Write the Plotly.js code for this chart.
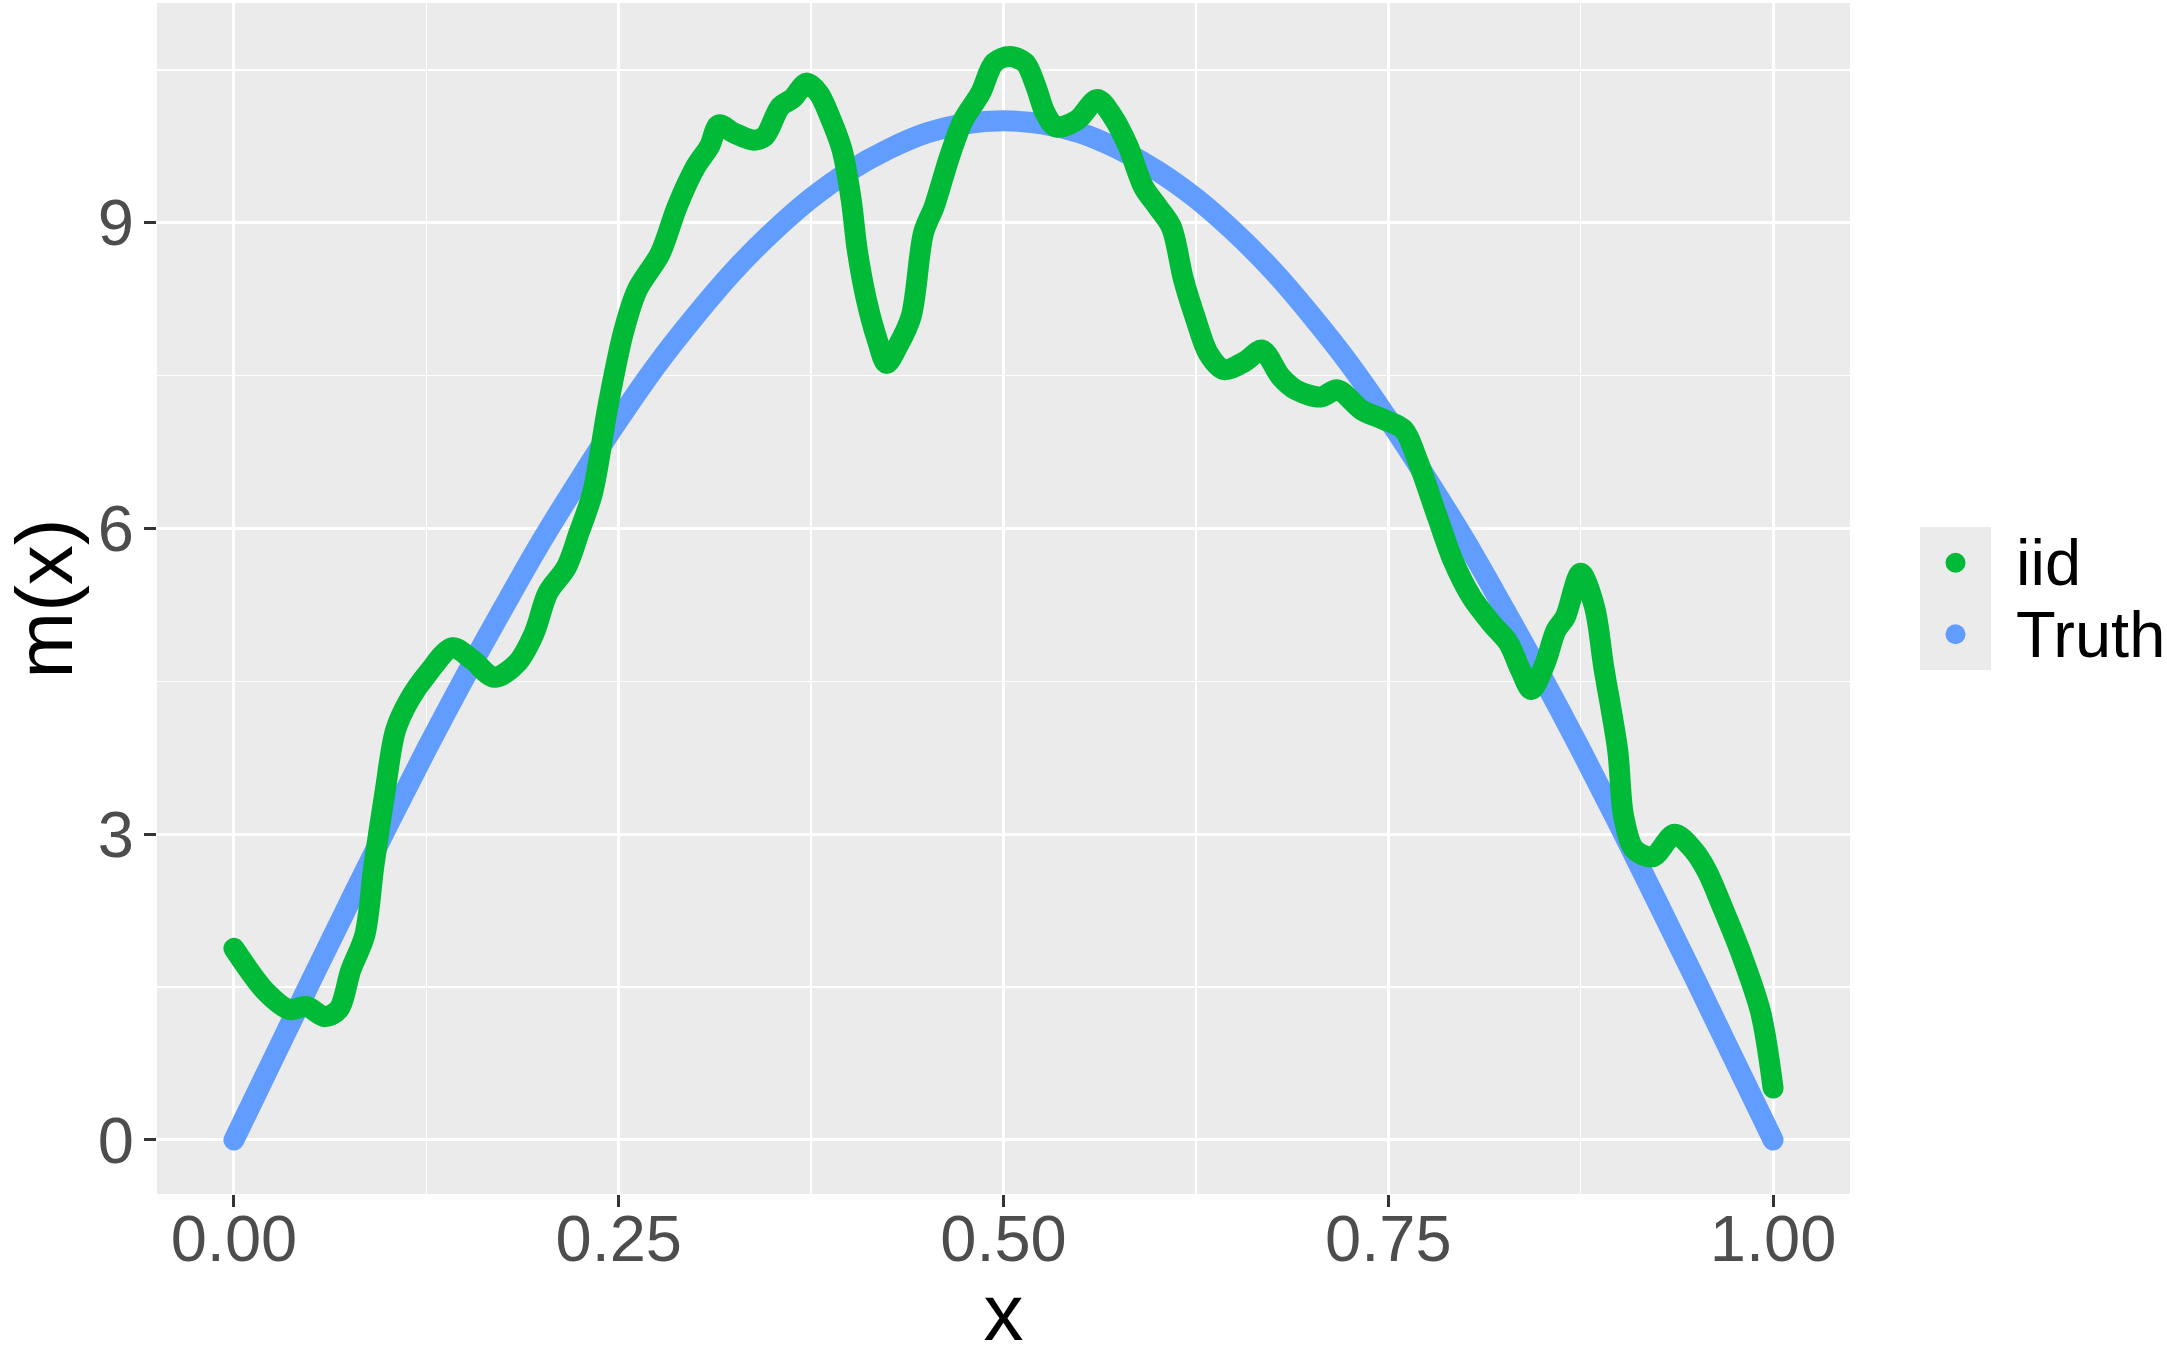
<!DOCTYPE html>
<html>
<head>
<meta charset="utf-8">
<script src="https://cdn.plot.ly/plotly-3.0.1.min.js"></script>
<style>
  html, body { margin: 0; padding: 0; background: #ffffff; }
  #chart { width: 2167px; height: 1357px; }
  /* rounded ends so the thick curves finish like dense point paths */
  .scatterlayer path.js-line { stroke-linecap: round; stroke-linejoin: round; }
</style>
</head>
<body>
<div id="chart"></div>
<script>
// Estimated regression function (iid errors)
const xIid = [0, 0.021, 0.036, 0.047, 0.059, 0.068, 0.076, 0.085, 0.091, 0.098,
  0.105, 0.114, 0.126, 0.142, 0.155, 0.169, 0.184, 0.195, 0.204, 0.216,
  0.224, 0.233, 0.243, 0.253, 0.262, 0.277, 0.288, 0.300, 0.309, 0.315,
  0.325, 0.338, 0.345, 0.355, 0.363, 0.372, 0.380, 0.388, 0.395, 0.401,
  0.405, 0.411, 0.418, 0.424, 0.431, 0.440, 0.448, 0.455, 0.465, 0.474,
  0.485, 0.494, 0.504, 0.514, 0.521, 0.527, 0.534, 0.548, 0.561, 0.571,
  0.581, 0.591, 0.600, 0.609, 0.617, 0.625, 0.633, 0.643, 0.657, 0.668,
  0.680, 0.690, 0.706, 0.717, 0.733, 0.747, 0.760, 0.769, 0.782, 0.792,
  0.804, 0.817, 0.828, 0.836, 0.843, 0.852, 0.859, 0.865, 0.875, 0.884,
  0.890, 0.899, 0.903, 0.910, 0.922, 0.936, 0.948, 0.957, 0.967, 0.979,
  0.992, 1.0];
const yIid = [1.88, 1.45, 1.28, 1.31, 1.21, 1.28, 1.67, 2.01, 2.70, 3.40,
  4.02, 4.32, 4.58, 4.83, 4.71, 4.54, 4.68, 4.97, 5.37, 5.62,
  5.95, 6.35, 7.20, 7.92, 8.34, 8.70, 9.16, 9.55, 9.75, 9.96,
  9.88, 9.81, 9.85, 10.14, 10.22, 10.37, 10.27, 10.01, 9.72, 9.23,
  8.73, 8.24, 7.85, 7.62, 7.78, 8.08, 8.90, 9.16, 9.65, 10.01,
  10.27, 10.57, 10.63, 10.57, 10.34, 10.08, 9.94, 10.01, 10.21, 10.04,
  9.75, 9.35, 9.16, 8.96, 8.44, 8.05, 7.72, 7.56, 7.64, 7.75,
  7.49, 7.36, 7.29, 7.36, 7.16, 7.07, 6.97, 6.67, 6.11, 5.69,
  5.33, 5.07, 4.88, 4.61, 4.42, 4.68, 5.00, 5.13, 5.56, 5.23,
  4.64, 3.83, 3.17, 2.85, 2.78, 3.00, 2.85, 2.64, 2.29, 1.84,
  1.25, 0.51];

// True regression function
const xTruth = [0, 0.025, 0.05, 0.075, 0.1, 0.125, 0.15, 0.175, 0.2, 0.225,
  0.25, 0.275, 0.3, 0.325, 0.35, 0.375, 0.4, 0.425, 0.45, 0.475,
  0.5, 0.525, 0.55, 0.575, 0.6, 0.625, 0.65, 0.675, 0.7, 0.725,
  0.75, 0.775, 0.8, 0.825, 0.85, 0.875, 0.9, 0.925, 0.95, 0.975, 1.0];
const yTruth = [0, 0.78, 1.56, 2.33, 3.09, 3.83, 4.54, 5.22, 5.88, 6.49,
  7.07, 7.61, 8.09, 8.53, 8.91, 9.24, 9.51, 9.72, 9.88, 9.97,
  10.0, 9.97, 9.88, 9.72, 9.51, 9.24, 8.91, 8.53, 8.09, 7.61,
  7.07, 6.49, 5.88, 5.22, 4.54, 3.83, 3.09, 2.33, 1.56, 0.78, 0];

const seriesNames = ['iid', 'Truth'];
const seriesColors = ['#00BA38', '#619CFF'];
const xTicks = [0, 0.25, 0.5, 0.75, 1];
const xTickText = ['0.00', '0.25', '0.50', '0.75', '1.00'];
const yTicks = [0, 3, 6, 9];

const FONT = 'Liberation Sans, Arial, Helvetica, sans-serif';
const W = 2167, H = 1357;
const M = { l: 157, r: 317, t: 3, b: 163 };
const plotL = M.l, plotR = W - M.r, plotT = M.t, plotB = H - M.b;
const px2x = p => (p - plotL) / (plotR - plotL);
const px2y = p => (plotB - p) / (plotB - plotT);

const traces = [
  { x: xTruth, y: yTruth, name: seriesNames[1], type: 'scatter', mode: 'lines',
    line: { color: seriesColors[1], width: 21, shape: 'spline', smoothing: 1 },
    showlegend: false, hoverinfo: 'x+y' },
  { x: xIid, y: yIid, name: seriesNames[0], type: 'scatter', mode: 'lines',
    line: { color: seriesColors[0], width: 21, shape: 'spline', smoothing: 0.9 },
    showlegend: false, hoverinfo: 'x+y' }
];

// legend: grey key column with a dot per series, labels to the right
const keyL = 1920, keyR = 1991, keyT = 527, keyRow = 71.5, dotR = 10, labelX = 2014;
const shapes = [{
  type: 'rect', xref: 'paper', yref: 'paper', layer: 'above',
  x0: px2x(keyL), x1: px2x(keyR), y0: px2y(keyT + 2 * keyRow), y1: px2y(keyT),
  fillcolor: '#EBEBEB', line: { width: 0 }
}];
const annotations = [];
seriesNames.forEach((nm, i) => {
  const cy = keyT + keyRow * (i + 0.5);
  shapes.push({
    type: 'circle', xref: 'paper', yref: 'paper', layer: 'above',
    xsizemode: 'pixel', ysizemode: 'pixel',
    xanchor: px2x((keyL + keyR) / 2), yanchor: px2y(cy),
    x0: -dotR, x1: dotR, y0: -dotR, y1: dotR,
    fillcolor: seriesColors[i], line: { width: 0 }
  });
  annotations.push({
    xref: 'paper', yref: 'paper', x: px2x(labelX), y: px2y(cy),
    xanchor: 'left', yanchor: 'middle', showarrow: false,
    text: nm, font: { family: FONT, size: 65, color: '#000000' }
  });
});

const axisCommon = {
  ticks: 'outside', ticklen: 12, tickwidth: 3, tickcolor: '#333333',
  tickfont: { family: FONT, size: 65, color: '#4D4D4D' },
  showgrid: true, gridcolor: '#FFFFFF', gridwidth: 3,
  zeroline: false, showline: false, automargin: false
};

const layout = {
  width: W, height: H,
  margin: M,
  paper_bgcolor: '#FFFFFF', plot_bgcolor: '#EBEBEB',
  font: { family: FONT },
  showlegend: false,
  xaxis: Object.assign({}, axisCommon, {
    range: [-0.05, 1.05],
    tickmode: 'array', tickvals: xTicks, ticktext: xTickText,
    ticklabelstandoff: -24,
    minor: { dtick: 0.125, tick0: 0, showgrid: true, gridcolor: '#FFFFFF', gridwidth: 1.6, ticks: '' },
    title: { text: 'x', font: { family: FONT, size: 80, color: '#000000' }, standoff: 51 }
  }),
  yaxis: Object.assign({}, axisCommon, {
    range: [-0.53, 11.156],
    tickmode: 'array', tickvals: yTicks,
    ticklabelstandoff: -3,
    minor: { dtick: 1.5, tick0: 0, showgrid: true, gridcolor: '#FFFFFF', gridwidth: 1.6, ticks: '' },
    title: { text: 'm(x)', font: { family: FONT, size: 80, color: '#000000' }, standoff: 13 }
  }),
  shapes: shapes,
  annotations: annotations
};

Plotly.newPlot('chart', traces, layout, { staticPlot: true, displayModeBar: false });
</script>
</body>
</html>
